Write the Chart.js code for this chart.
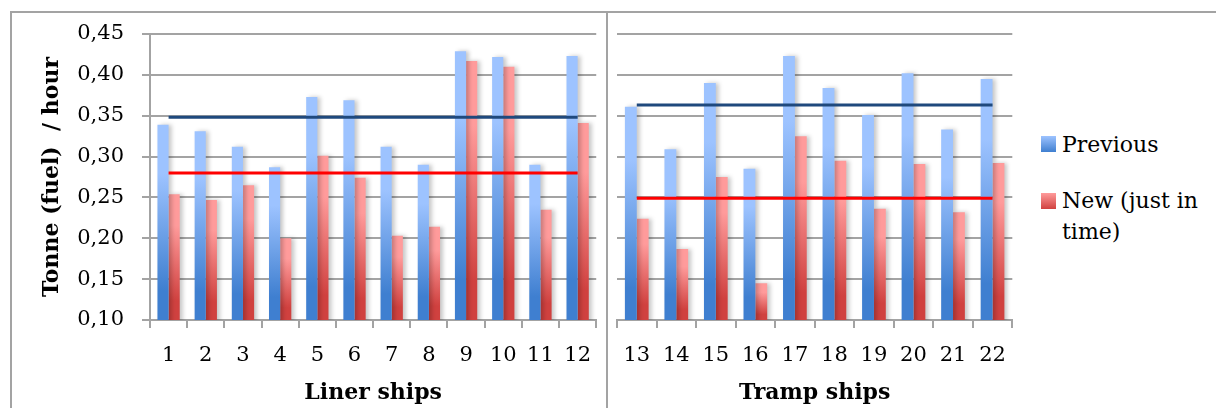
<!DOCTYPE html>
<html>
<head>
<meta charset="utf-8">
<script src="https://cdn.jsdelivr.net/npm/chart.js@4.4.1/dist/chart.umd.min.js"></script>
<style>
  body { margin: 0; background: #fff; width: 1216px; height: 408px; overflow: hidden; position: relative; font-family: "DejaVu Serif", serif; }
  #frame { position: absolute; left: 10px; top: 11px; width: 1230px; height: 420px; border-left: 2px solid #a3a3a3; border-top: 2px solid #a3a3a3; }
  #sep { position: absolute; left: 606px; top: 11px; width: 2px; height: 400px; background: #a3a3a3; }
  #c1 { position: absolute; left: 0; top: 0; }
  #c2 { position: absolute; left: 608px; top: 0; }
  .sw { position: absolute; left: 1041px; width: 15px; height: 16px; }
  .tx { position: absolute; left: 1062px; width: 145px; font-size: 22px; line-height: 31px; color: #000; }
</style>
</head>
<body>
<div id="frame"></div>
<div id="sep"></div>
<canvas id="c1" width="606" height="408"></canvas>
<canvas id="c2" width="413" height="408"></canvas>
<div class="sw" style="top:136px;background:linear-gradient(#9dc3ff,#3f7fd0)"></div>
<div class="tx" style="top:129px">Previous</div>
<div class="sw" style="top:193px;background:linear-gradient(#ff9b9b,#d0413f)"></div>
<div class="tx" style="top:185px">New (just in time)</div>
<script>
// values
const categoriesLiner = ['1','2','3','4','5','6','7','8','9','10','11','12'];
const categoriesTramp = ['13','14','15','16','17','18','19','20','21','22'];
const previousLiner = [0.339, 0.331, 0.312, 0.287, 0.373, 0.369, 0.312, 0.290, 0.429, 0.422, 0.290, 0.423];
const newLiner      = [0.254, 0.247, 0.265, 0.200, 0.301, 0.274, 0.203, 0.214, 0.417, 0.410, 0.235, 0.341];
const previousTramp = [0.361, 0.309, 0.390, 0.285, 0.423, 0.384, 0.351, 0.402, 0.333, 0.395];
const newTramp      = [0.224, 0.187, 0.275, 0.145, 0.325, 0.295, 0.236, 0.291, 0.232, 0.292];
const linerAverages = [0.348, 0.280]; // previous, new
const trampAverages = [0.363, 0.249];
const yTickLabels = ['0,10','0,15','0,20','0,25','0,30','0,35','0,40','0,45'];

Chart.defaults.font.family = '"DejaVu Serif", serif';
Chart.defaults.font.size = 21;
Chart.defaults.color = '#000';

const gridColor = '#a3a3a3';

function barFill(light, dark) {
  return function(ctx) {
    const chart = ctx.chart;
    if (ctx.type !== 'data' || !chart.chartArea) return dark;
    const y = chart.scales.y;
    const top = y.getPixelForValue(ctx.raw);
    const bot = y.getPixelForValue(y.min);
    const g = chart.ctx.createLinearGradient(0, top, 0, bot);
    g.addColorStop(0, light);
    g.addColorStop(0.25, light);
    g.addColorStop(0.85, dark);
    g.addColorStop(1, dark);
    return g;
  };
}

// soft shadow to the right of bars
const barShadow = {
  id: 'barShadow',
  beforeDatasetDraw(chart, args) {
    if (args.meta.type !== 'bar') return;
    const c = chart.ctx;
    c.save();
    c.shadowColor = 'rgba(0,0,0,0.22)';
    c.shadowBlur = 4;
    c.shadowOffsetX = 3;
    c.shadowOffsetY = 0;
  },
  afterDatasetDraw(chart, args) {
    if (args.meta.type === 'bar') chart.ctx.restore();
  }
};

function makeChart(id, labels, prev, next, avgs, title, withAxis) {
  const data = {
    labels: labels,
    datasets: [
      { type: 'line', label: 'avgPrev', data: labels.map(() => avgs[0]), borderColor: '#1f497d', borderWidth: 3, pointRadius: 0, order: 0 },
      { type: 'line', label: 'avgNew', data: labels.map(() => avgs[1]), borderColor: '#ff0000', borderWidth: 3, pointRadius: 0, order: 0 },
      { label: 'Previous', data: prev, backgroundColor: barFill('#9dc3ff', '#3f7fd0'), order: 1 },
      { label: 'New (just in time)', data: next, backgroundColor: barFill('#ff9b9b', '#d0413f'), order: 1 }
    ]
  };
  const options = {
    responsive: false,
    animation: false,
    layout: { padding: withAxis ? { top: 34, left: 0, right: 0, bottom: 0 } : { top: 34, left: 9, right: 2, bottom: 0 } },
    datasets: { bar: { categoryPercentage: 0.6, barPercentage: 1.0 } },
    plugins: { legend: { display: false }, tooltip: { enabled: false } },
    scales: {
      x: {
        offset: true,
        grid: { offset: true, drawOnChartArea: false, drawTicks: true, tickLength: 8, color: gridColor, lineWidth: 2 },
        border: { color: gridColor, width: 2 },
        ticks: { padding: 15, maxRotation: 0, autoSkip: false },
        title: { display: true, text: title, font: { weight: 'bold', size: 22 }, padding: { top: 0, bottom: 2 } },
        afterFit: function(s) { s.height = 88; }
      },
      y: {
        min: 0.10,
        max: 0.45,
        ticks: {
          display: withAxis,
          stepSize: 0.05,
          padding: 18,
          callback: function(v, i) { return yTickLabels[i]; }
        },
        grid: { color: gridColor, lineWidth: 2, drawTicks: withAxis, tickLength: 8 },
        border: { display: withAxis, color: gridColor, width: 2 },
        title: { display: withAxis, text: 'Tonne (fuel)  / hour', font: { weight: 'bold', size: 22 }, padding: { top: 39, bottom: 0 } },
        afterFit: function(s) { s.width = withAxis ? 150 : 0; }
      }
    }
  };
  new Chart(document.getElementById(id), { type: 'bar', data: data, options: options, plugins: [barShadow] });
}

makeChart('c1', categoriesLiner, previousLiner, newLiner, linerAverages, 'Liner ships', true);
makeChart('c2', categoriesTramp, previousTramp, newTramp, trampAverages, 'Tramp ships', false);
</script>
</body>
</html>
